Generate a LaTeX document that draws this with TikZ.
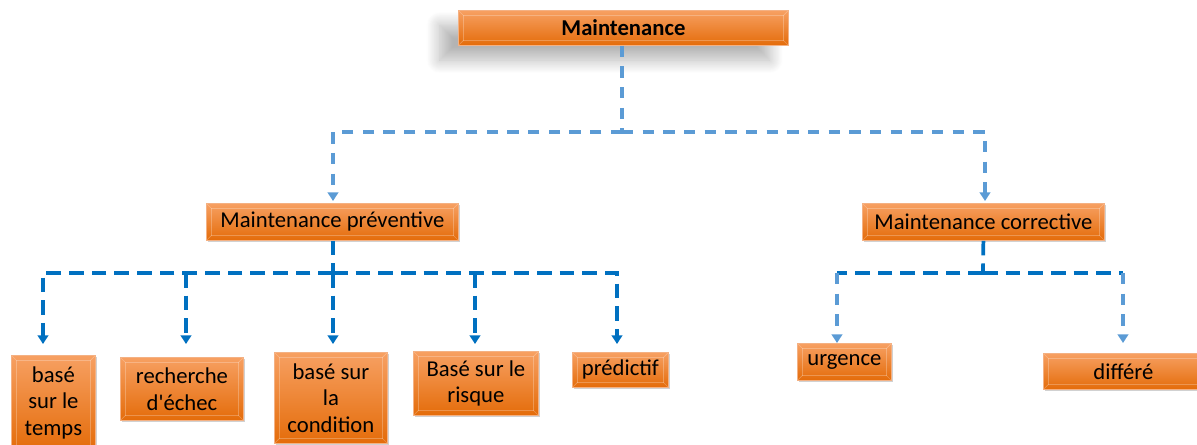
\documentclass[tikz,border=0pt]{standalone}
\usepackage{fontspec}
\setmainfont{Carlito}
\usetikzlibrary{arrows.meta,shadows.blur,shadows}
\definecolor{otop}{HTML}{F7A062}
\definecolor{obot}{HTML}{E46C0A}
\definecolor{oedge}{HTML}{F4B183}
\definecolor{lblue}{HTML}{5B9BD5}
\definecolor{dblue}{HTML}{0070C0}
\def\u{0.75pt}
\tikzset{
  obase/.style={rectangle, top color=otop, bottom color=obot, draw=oedge, line width=0.6pt,
    inner sep=0pt, anchor=north west, align=center, text=black,
    font=\fontsize{17}{20}\selectfont,
    path picture={
      \draw[white, opacity=0.25, line width=0.5pt]
        ([shift={(4pt,-4pt)}]path picture bounding box.north west) rectangle
        ([shift={(-4pt,4pt)}]path picture bounding box.south east);
      \draw[white, opacity=0.25, line width=0.5pt]
        (path picture bounding box.north west) -- ++(4pt,-4pt)
        (path picture bounding box.north east) -- ++(-4pt,-4pt)
        (path picture bounding box.south west) -- ++(4pt,4pt)
        (path picture bounding box.south east) -- ++(-4pt,4pt);
    }},
  obox/.style={obase,
    drop shadow={shadow xshift=1.5pt, shadow yshift=-1.5pt, opacity=0.3, fill=black!60}},
  conn/.style={line width=2.4pt, dash pattern=on 8.5pt off 7pt},
  connb/.style={line width=2.8pt, dash pattern=on 11pt off 6pt},
  tip/.style={-{Triangle[width=8pt,length=6.5pt]}}
}
\begin{document}
\begin{tikzpicture}[x=0.75pt,y=-0.75pt]
\useasboundingbox (0,0) rectangle (1197,445);
% top node with blurred shadow
\node[obase, font=\bfseries\fontsize{17}{20}\selectfont, minimum width=330*\u, minimum height=35*\u,
  blur shadow={shadow xshift=-14pt, shadow yshift=-11pt, shadow blur steps=16, shadow blur radius=10pt, shadow opacity=30}]
  (top) at (458,10) {Maintenance};
\node[obox, minimum width=252*\u, minimum height=37*\u] (prev) at (206,203) {Maintenance préventive};
\node[obox, minimum width=242*\u, minimum height=37*\u] (corr) at (862,203) {Maintenance corrective};
\node[obox, minimum width=84*\u, minimum height=95*\u] (temps) at (11,355) {basé\\sur le\\temps};
\node[obox, minimum width=123*\u, minimum height=63*\u] (rech) at (120,357) {recherche\\d\textquotesingle échec};
\node[obox, minimum width=113*\u, minimum height=91*\u] (cond) at (274,352) {basé sur\\la\\condition};
\node[obox, minimum width=125*\u, minimum height=64*\u] (risq) at (413,351) {Basé sur le\\risque};
\node[obox, minimum width=96*\u, minimum height=35*\u] (pred) at (572,352) {prédictif};
\node[obox, minimum width=94*\u, minimum height=37*\u] (urg) at (797,343) {urgence};
\node[obox, minimum width=160*\u, minimum height=36*\u] (diff) at (1043,353) {différé};
% top connectors
\coordinate (j1) at (622,132);
\coordinate (tp) at (333,201);
\coordinate (tc) at (985,201);
\draw[conn, lblue] (top.south -| j1) -- (j1);
\draw[conn, lblue, tip] (j1) -| (tp);
\draw[conn, lblue, tip] (j1) -| (tc);
% preventive connectors
\coordinate (j2) at (333,273);
\coordinate (a1) at (43,344);
\coordinate (a2) at (186,344);
\coordinate (a3) at (333,344);
\coordinate (a4) at (475,344);
\coordinate (a5) at (617,344);
\draw[connb, dblue] (prev.south -| j2) -- (j2);
\draw[connb, dblue, tip] (j2) -| (a1);
\draw[connb, dblue, tip] (a2 |- j2) -- (a2);
\draw[connb, dblue, tip] (j2) -- (a3);
\draw[connb, dblue, tip] (a4 |- j2) -- (a4);
\draw[connb, dblue, tip] (j2) -| (a5);
% corrective connectors
\coordinate (j3) at (983,273);
\coordinate (b1) at (837,343);
\coordinate (b2) at (1123,343);
\draw[connb, dblue] (corr.south) -- (j3);
\draw[connb, dblue] (j3) -- (b1 |- j3);
\draw[connb, dblue] (j3) -- (b2 |- j3);
\draw[conn, lblue, tip] (b1 |- j3) -- (b1);
\draw[conn, lblue, tip] (b2 |- j3) -- (b2);
\end{tikzpicture}
\end{document}
